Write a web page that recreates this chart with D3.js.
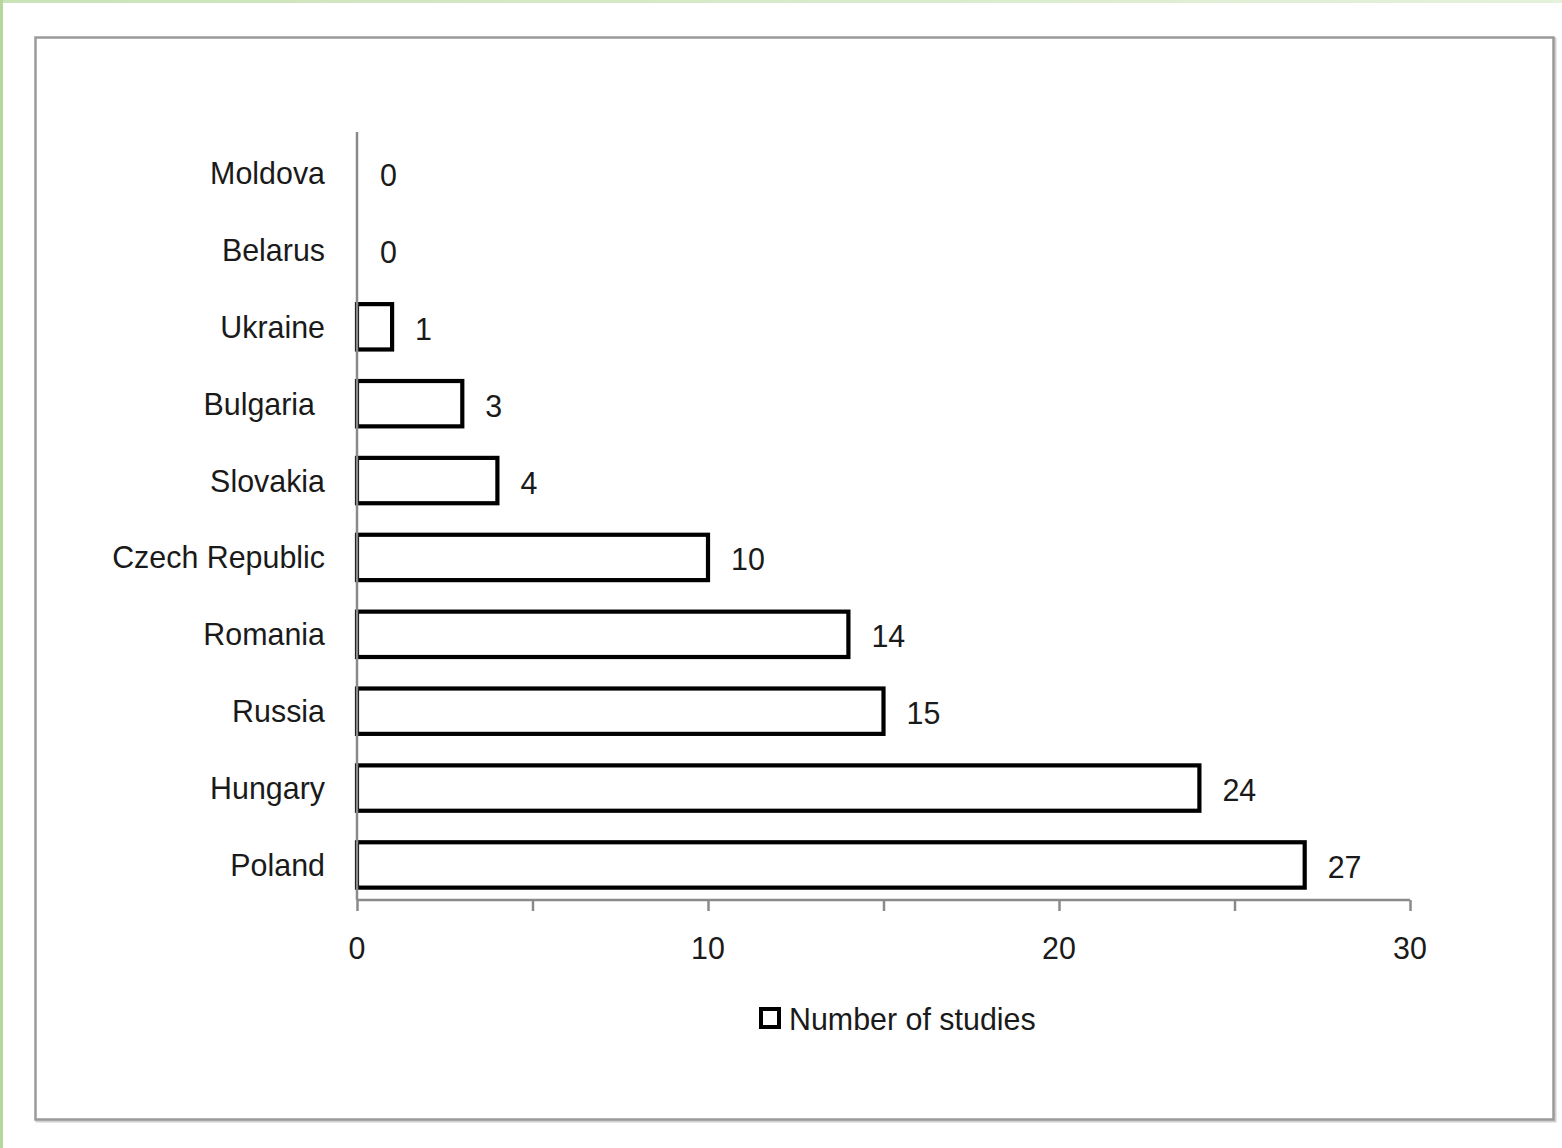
<!DOCTYPE html>
<html>
<head>
<meta charset="utf-8">
<script src="https://cdn.jsdelivr.net/npm/d3@7"></script>
<style>
html,body{margin:0;padding:0;background:#fff;}
svg{display:block;}
text{font-family:"Liberation Sans",Arial,sans-serif;fill:#1a1a1a;}
</style>
</head>
<body>
<script>
const categories = ["Moldova","Belarus","Ukraine","Bulgaria","Slovakia","Czech Republic","Romania","Russia","Hungary","Poland"];
const values = [0,0,1,3,4,10,14,15,24,27];
const xTicks = [0,5,10,15,20,25,30];
const xTickLabels = ["0","","10","","20","","30"];
const legendLabel = "Number of studies";

const W = 1562, H = 1148;
const svg = d3.select("body").append("svg").attr("width", W).attr("height", H);

// page background with green edges
svg.append("rect").attr("x",0).attr("y",0).attr("width",W).attr("height",H).attr("fill","#fff");
const grad = svg.append("defs").append("linearGradient").attr("id","tg");
grad.append("stop").attr("offset","0%").attr("stop-color","#c9e3b8");
grad.append("stop").attr("offset","100%").attr("stop-color","#e6f1dc");
svg.append("rect").attr("x",0).attr("y",0).attr("width",W).attr("height",3).attr("fill","url(#tg)");
svg.append("rect").attr("x",0).attr("y",0).attr("width",3).attr("height",H).attr("fill","#b4d89c");

// chart frame
svg.append("rect").attr("x",37).attr("y",39).attr("width",1518).attr("height",1082)
  .attr("fill","none").attr("stroke","#d0d0d0").attr("stroke-width",3);
svg.append("rect").attr("x",35.5).attr("y",37.5).attr("width",1518).attr("height",1082)
  .attr("fill","#fff").attr("stroke","#9a9a9a").attr("stroke-width",2.5);

const x0 = 357, x1 = 1410, yTop = 132, yBot = 900;
const x = d3.scaleLinear().domain([0,30]).range([x0,x1]);
const y = d3.scaleBand().domain(categories).range([yTop+3,yBot+3]).paddingInner(0.41).paddingOuter(0.2);

const FS = 32, SX = 0.95;

// bars
svg.append("g").selectAll("rect").data(categories.map((c,i)=>({c,v:values[i]})).filter(d=>d.v>0))
  .join("rect")
  .attr("x", x(0))
  .attr("y", d=>y(d.c))
  .attr("width", d=>x(d.v)-x(0))
  .attr("height", y.bandwidth())
  .attr("fill","#fff").attr("stroke","#000").attr("stroke-width",4.2);

// x axis
const xAxis = d3.axisBottom(x).tickValues(xTicks).tickSize(11).tickFormat("");
const gx = svg.append("g").attr("transform",`translate(0,${yBot})`).call(xAxis);
gx.select(".domain").attr("stroke","#8a8a8a").attr("stroke-width",2.5).attr("d",`M${x0},0H${x1}`);
gx.selectAll(".tick line").attr("stroke","#8a8a8a").attr("stroke-width",2.5);
// y axis line
svg.append("line").attr("x1",x0).attr("x2",x0).attr("y1",yTop).attr("y2",yBot)
  .attr("stroke","#8a8a8a").attr("stroke-width",2.5);

// tick labels
svg.append("g").selectAll("text").data(xTicks.map((t,i)=>({t,l:xTickLabels[i]})).filter(d=>d.l))
  .join("text")
  .attr("transform", d=>`translate(${x(d.t)},959) scale(${SX},1)`)
  .attr("text-anchor","middle").attr("font-size",FS).text(d=>d.l);

// category labels
svg.append("g").selectAll("text").data(categories)
  .join("text")
  .attr("transform", d=>`translate(${d==="Bulgaria"?315:325},${y(d)+y.bandwidth()/2+11}) scale(${SX},1)`)
  .attr("text-anchor","end").attr("font-size",FS).text(d=>d);

// value labels
svg.append("g").selectAll("text").data(categories.map((c,i)=>({c,v:values[i]})))
  .join("text")
  .attr("transform", d=>`translate(${x(d.v)+23},${y(d.c)+y.bandwidth()/2+13}) scale(${SX},1)`)
  .attr("text-anchor","start").attr("font-size",FS).text(d=>d.v);

// legend
svg.append("rect").attr("x",761).attr("y",1009).attr("width",18).attr("height",18)
  .attr("fill","#fff").attr("stroke","#000").attr("stroke-width",4);
svg.append("text").attr("transform",`translate(789,1030) scale(${SX},1)`)
  .attr("font-size",FS).text(legendLabel);
</script>
</body>
</html>
